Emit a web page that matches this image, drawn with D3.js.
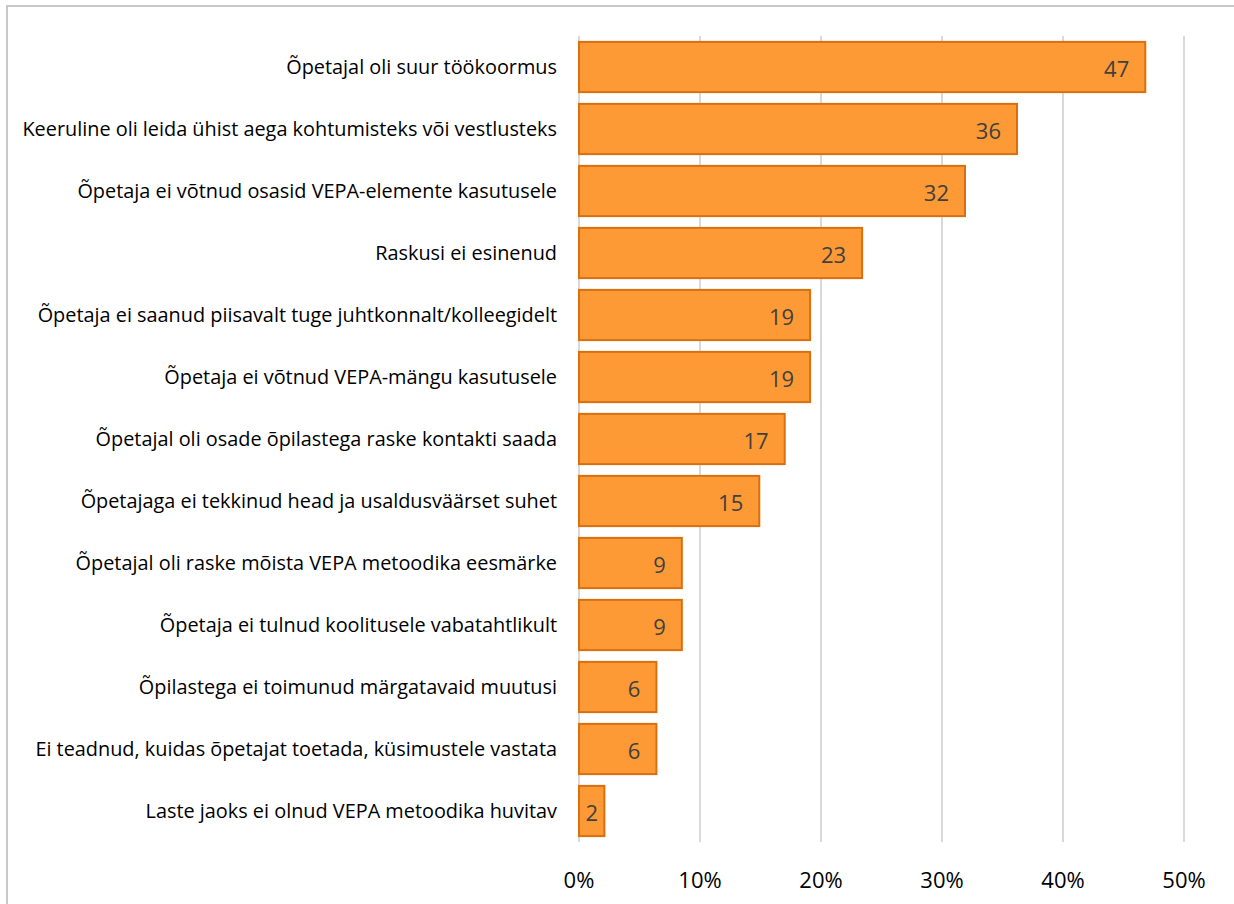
<!DOCTYPE html>
<html>
<head>
<meta charset="utf-8">
<script src="https://cdn.jsdelivr.net/npm/d3@7"></script>
<style>
    body { margin: 0; background: #fff; }
    svg { display: block; }
</style>
</head>
<body>
<div id="chart"></div>
<script>
'use strict';

// Chart data
const categories = [
    "Õpetajal oli suur töökoormus",
    "Keeruline oli leida ühist aega kohtumisteks või vestlusteks",
    "Õpetaja ei võtnud osasid VEPA-elemente kasutusele",
    "Raskusi ei esinenud",
    "Õpetaja ei saanud piisavalt tuge juhtkonnalt/kolleegidelt",
    "Õpetaja ei võtnud VEPA-mängu kasutusele",
    "Õpetajal oli osade õpilastega raske kontakti saada",
    "Õpetajaga ei tekkinud head ja usaldusväärset suhet",
    "Õpetajal oli raske mõista VEPA metoodika eesmärke",
    "Õpetaja ei tulnud koolitusele vabatahtlikult",
    "Õpilastega ei toimunud märgatavaid muutusi",
    "Ei teadnud, kuidas õpetajat toetada, küsimustele vastata",
    "Laste jaoks ei olnud VEPA metoodika huvitav"
];
const values = [46.8, 36.2, 31.9, 23.4, 19.1, 19.1, 17.0, 14.9, 8.5, 8.5, 6.4, 6.4, 2.1];
const xTicks = [0, 10, 20, 30, 40, 50];

const W = 1234, H = 904;
const plotLeft = 579, plotRight = 1184, plotTop = 36, plotBottom = 842;
const font = "'Open Sans', sans-serif";

const svg = d3.select("#chart").append("svg")
    .attr("width", W)
    .attr("height", H);

// outer chart frame (left and top edges visible)
svg.append("rect")
    .attr("x", 7).attr("y", 6)
    .attr("width", W + 10).attr("height", H + 10)
    .attr("fill", "none")
    .attr("stroke", "#c8c8c8")
    .attr("stroke-width", 2);

const x = d3.scaleLinear().domain([0, 50]).range([plotLeft, plotRight]);
const y = d3.scaleBand().domain(categories).range([plotTop, plotBottom])
    .paddingInner(0.19).paddingOuter(0.095);

// gridlines
svg.append("g").selectAll("line")
    .data(xTicks)
    .enter().append("line")
    .attr("x1", d => x(d)).attr("x2", d => x(d))
    .attr("y1", plotTop).attr("y2", plotBottom)
    .attr("stroke", "#d9d9d9")
    .attr("stroke-width", 2);

// x tick labels
svg.append("g").selectAll("text")
    .data(xTicks)
    .enter().append("text")
    .attr("x", d => x(d))
    .attr("y", 888)
    .attr("text-anchor", "middle")
    .style("font-family", font)
    .style("font-size", "22px")
    .attr("fill", "#000")
    .text(d => d + "%");

// bars
svg.append("g").selectAll("rect")
    .data(values)
    .enter().append("rect")
    .attr("x", x(0))
    .attr("y", (d, i) => y(categories[i]))
    .attr("width", d => x(d) - x(0))
    .attr("height", y.bandwidth())
    .attr("fill", "#fe9a35")
    .attr("stroke", "#d8700f")
    .attr("stroke-width", 2);

// category labels
const catLabels = svg.append("g").selectAll("text")
    .data(categories)
    .enter().append("text")
    .attr("x", 557)
    .attr("y", d => y(d) + y.bandwidth() / 2)
    .attr("dy", "0.36em")
    .attr("text-anchor", "end")
    .style("font-family", font)
    .style("font-size", "17px")
    .attr("fill", "#000")
    .text(d => d);

// fit longest label to the width seen in the chart
let maxW = 0;
catLabels.each(function () { maxW = Math.max(maxW, this.getComputedTextLength()); });
catLabels.style("font-size", (17 * 535 / maxW).toFixed(2) + "px");

// value labels (inside end)
svg.append("g").selectAll("text")
    .data(values)
    .enter().append("text")
    .style("font-family", font)
    .style("font-size", "22px")
    .attr("fill", "#404040")
    .attr("y", (d, i) => y(categories[i]) + y.bandwidth() / 2 + 2)
    .attr("dy", "0.36em")
    .text(d => Math.round(d))
    .each(function (d) {
        const tw = this.getComputedTextLength();
        const barW = x(d) - x(0);
        const el = d3.select(this);
        if (barW < tw + 32) {
            el.attr("x", x(0) + barW / 2).attr("text-anchor", "middle");
        } else {
            el.attr("x", x(d) - 16).attr("text-anchor", "end");
        }
    });
</script>
</body>
</html>
